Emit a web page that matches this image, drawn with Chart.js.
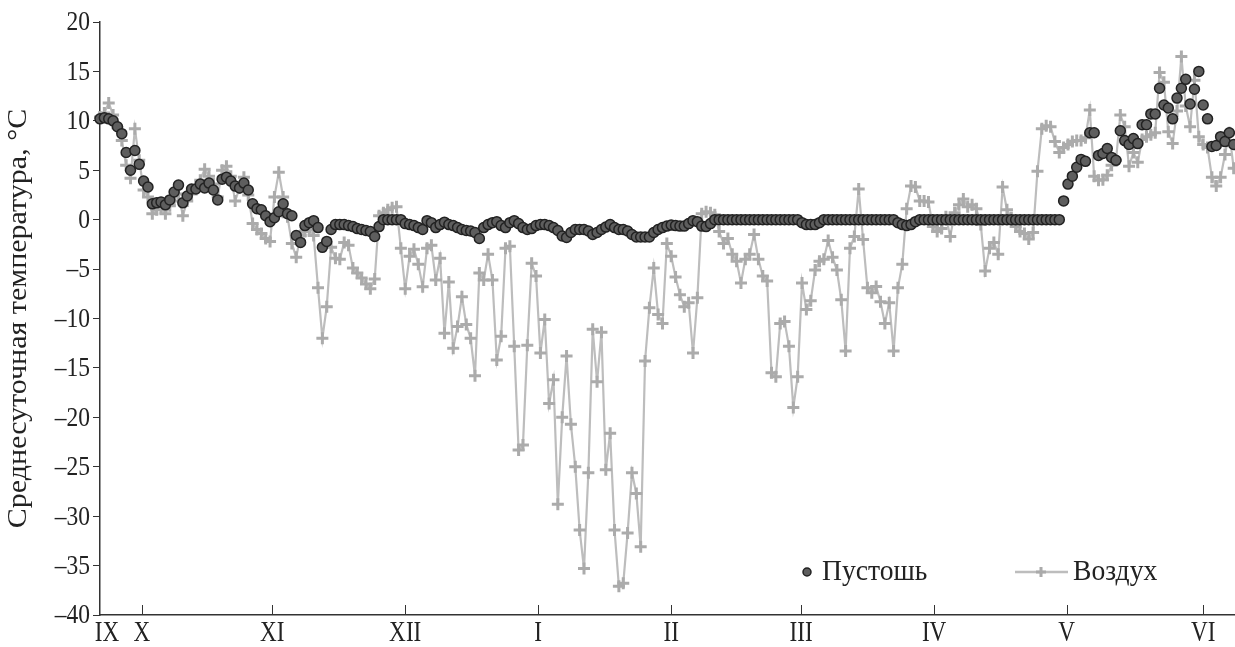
<!DOCTYPE html>
<html>
<head>
<meta charset="utf-8">
<script src="https://cdn.jsdelivr.net/npm/chart.js@4"></script>
<style>
  html, body { margin: 0; padding: 0; background: #fff; }
  #wrap { width: 1235px; height: 647px; }
</style>
</head>
<body>
<div id="wrap"><canvas id="myChart" width="1235" height="647"></canvas></div>
<script>
// daily mean temperature, one value per day from late September to early June
const soil = [
  10.2, 10.3, 10.2, 10.0, 9.4, 8.7, 6.8, 5.0, 7.0, 5.6,
  3.9, 3.3, 1.6, 1.7, 1.8, 1.5, 2.0, 2.8, 3.5, 1.7,
  2.4, 3.1, 3.1, 3.6, 3.2, 3.7, 3.0, 2.0, 4.1, 4.3,
  3.9, 3.4, 3.2, 3.7, 3.0, 1.6, 1.1, 1.0, 0.4, -0.2,
  0.2, 0.8, 1.6, 0.6, 0.4, -1.6, -2.3, -0.6, -0.3, -0.1,
  -0.8, -2.8, -2.2, -1.0, -0.5, -0.5, -0.5, -0.6, -0.7, -0.9,
  -1.0, -1.1, -1.2, -1.7, -0.7, 0, 0, 0, 0, 0,
  -0.4, -0.5, -0.6, -0.8, -1.0, -0.1, -0.3, -0.8, -0.5, -0.25,
  -0.5, -0.6, -0.8, -1.0, -1.1, -1.15, -1.3, -1.9, -0.8, -0.5,
  -0.3, -0.2, -0.6, -0.8, -0.3, -0.1, -0.4, -0.8, -1.0, -0.9,
  -0.6, -0.5, -0.5, -0.6, -0.8, -1.1, -1.65, -1.8, -1.3, -1.0,
  -1.0, -1.0, -1.15, -1.5, -1.3, -1.0, -0.75, -0.5, -0.8, -1.0,
  -1.0, -1.15, -1.5, -1.75, -1.75, -1.75, -1.75, -1.3, -1.0, -0.8,
  -0.65, -0.55, -0.6, -0.65, -0.65, -0.4, -0.1, -0.2, -0.65, -0.7,
  -0.4, 0, 0, 0, 0, 0, 0, 0, 0, 0,
  0, 0, 0, 0, 0, 0, 0, 0, 0, 0,
  0, -0.3, -0.5, -0.5, -0.5, -0.3, 0, 0, 0, 0,
  0, 0, 0, 0, 0, 0, 0, 0, 0, 0,
  0, 0, 0, -0.3, -0.5, -0.6, -0.5, -0.2, 0, 0,
  0, 0, 0, 0, 0, 0, 0, 0, 0, 0,
  0, 0, 0, 0, 0, 0, 0, 0, 0, 0,
  0, 0, 0, 0, 0, 0, 0, 0, 0, 0,
  0, 1.9, 3.6, 4.4, 5.3, 6.1, 5.9, 8.8, 8.8, 6.5,
  6.7, 7.2, 6.3, 6.0, 9.0, 8.0, 7.6, 8.2, 7.7, 9.6,
  9.6, 10.7, 10.7, 13.3, 11.6, 11.3, 10.2, 12.3, 13.3, 14.2,
  11.7, 13.2, 15.0, 11.6, 10.2, 7.4, 7.5, 8.4, 7.9, 8.8,
  7.6
];

const air = [
  10.4, 10.8, 11.8, 10.6, 9.3, 8.0, 5.5, 4.2, 9.2, 6.0,
  3.0, 2.3, 0.6, 1.0, 1.2, 0.6, 1.4, 1.9, 2.6, 0.4,
  1.9, 2.6, 3.4, 4.0, 5.1, 4.4, 3.6, 2.3, 5.0, 5.4,
  4.4, 1.9, 3.2, 4.3, 2.5, -0.4, -1.0, -1.4, -1.9, -2.2,
  2.3, 4.8, 2.3, 0.3, -2.4, -3.8, -1.6, -1.2, -1.0, -1.6,
  -6.9, -12.0, -8.8, -2.8, -3.9, -4.0, -2.3, -2.6, -4.9, -5.4,
  -5.9, -6.5, -7.0, -6.0, 0.4, 0.7, 1.0, 1.2, 1.3, -2.9,
  -7.0, -3.7, -3.0, -4.5, -6.8, -2.9, -2.6, -6.1, -3.9, -11.5,
  -6.3, -13.0, -10.8, -7.8, -10.6, -12.0, -15.8, -5.4, -6.1, -3.5,
  -6.1, -14.2, -11.8, -2.9, -2.7, -12.8, -23.3, -22.8, -12.7, -4.4,
  -5.7, -13.5, -10.1, -18.6, -16.2, -28.8, -20.0, -13.8, -20.7, -25.0,
  -31.4, -35.3, -25.6, -11.1, -16.4, -11.4, -25.3, -21.6, -31.4, -37.1,
  -36.8, -31.7, -25.6, -27.7, -33.1, -14.3, -8.9, -4.9, -9.6, -10.5,
  -2.4, -3.7, -5.8, -7.6, -8.8, -8.4, -13.5, -7.9, 0.6, 0.8,
  0.7, 0.5, -1.2, -2.4, -1.9, -3.5, -4.2, -6.4, -4.0, -3.5,
  -1.5, -4.0, -5.7, -6.2, -15.5, -15.9, -10.5, -10.3, -12.8, -19.0,
  -15.9, -6.4, -9.1, -8.2, -5.1, -4.2, -4.0, -2.1, -3.8, -5.1,
  -8.1, -13.3, -2.9, -1.7, 3.1, -2.0, -6.9, -7.4, -6.75, -8.3,
  -10.5, -8.4, -13.3, -6.9, -4.5, 1.1, 3.4, 3.3, 1.9, 1.9,
  1.8, -0.7, -1.2, -0.9, 0.3, -1.7, 0.7, 1.5, 2.1, 1.3,
  1.5, 1.1, -0.5, -5.2, -2.9, -2.3, -3.5, 3.3, 1.0, 0.2,
  -0.7, -1.2, -1.4, -1.95, -1.3, 4.9, 9.2, 9.5, 9.4, 7.9,
  6.8, 7.3, 7.6, 7.9, 8.0, 8.0, 8.3, 11.1, 4.4, 4.0,
  4.05, 4.5, 5.5, 6.0, 10.6, 9.4, 5.4, 6.8, 5.8, 8.1,
  8.4, 8.6, 8.8, 14.9, 13.9, 8.9, 7.7, 11.0, 16.5, 11.5,
  9.4, 14.1, 8.4, 7.6, 7.3, 4.3, 3.4, 4.3, 6.6, 8.8,
  5.2
];

// month labels and where they sit on the day axis
const monthLabels = ["IX", "X", "XI", "XII", "I", "II", "III", "IV", "V", "VI"];
const monthPos = [1.6, 9.6, 39.5, 70.0, 100.5, 131.0, 160.8, 191.3, 221.7, 253.0];
const yTicks = [20, 15, 10, 5, 0, -5, -10, -15, -20, -25, -30, -35, -40];

const soilPts = soil.map((v, i) => ({ x: i, y: v }));
const airPts = air.map((v, i) => ({ x: i, y: v }));

const serif = "'Liberation Serif', 'Times New Roman', serif";
Chart.defaults.font.family = serif;
Chart.defaults.color = "#222";

function fmt(v) {
  return v < 0 ? "\u2013" + Math.abs(v) : String(v);
}

// narrow, tall text like the printed figure
function squeezedText(ctx, text, x, y, size, sx, align) {
  ctx.save();
  ctx.translate(x, y);
  ctx.scale(sx, 1);
  ctx.font = size + "px " + serif;
  ctx.textAlign = align;
  ctx.textBaseline = "middle";
  ctx.fillText(text, 0, 0);
  ctx.restore();
}

// axis labels, inner x tick marks and the y title
const axisText = {
  id: "axisText",
  afterDraw(chart) {
    const ctx = chart.ctx;
    const x = chart.scales.x;
    const y = chart.scales.y;
    const area = chart.chartArea;
    ctx.save();
    ctx.strokeStyle = "#333";
    ctx.lineWidth = 1;
    x.ticks.forEach((t, i) => {
      if (i === 0) return;
      const px = Math.round(x.getPixelForValue(t.value)) + 0.5;
      ctx.beginPath();
      ctx.moveTo(px, area.bottom);
      ctx.lineTo(px, area.bottom - 10);
      ctx.stroke();
    });
    ctx.fillStyle = "#222";
    x.ticks.forEach((t, i) => {
      squeezedText(ctx, monthLabels[i], x.getPixelForValue(t.value), 633, 29, 0.8, "center");
    });
    y.ticks.forEach((t) => {
      squeezedText(ctx, fmt(t.value), 90, y.getPixelForValue(t.value) + 1, 28, 0.84, "right");
    });
    ctx.translate(19, (area.top + area.bottom) / 2);
    ctx.rotate(-Math.PI / 2);
    ctx.scale(1, 0.9);
    ctx.font = "30px " + serif;
    ctx.textAlign = "center";
    ctx.textBaseline = "middle";
    ctx.fillText("Среднесуточная температура, °C", 0, 0);
    ctx.restore();
  },
};

// legend in the lower right of the plot
const cornerLegend = {
  id: "cornerLegend",
  afterDraw(chart) {
    const ctx = chart.ctx;
    const y = 572;
    ctx.save();
    ctx.fillStyle = "#5e5e5e";
    ctx.strokeStyle = "#222";
    ctx.lineWidth = 1.5;
    ctx.beginPath();
    ctx.arc(807, y, 4, 0, Math.PI * 2);
    ctx.fill();
    ctx.stroke();

    ctx.strokeStyle = "#bdbdbd";
    ctx.lineWidth = 2.5;
    ctx.beginPath();
    ctx.moveTo(1015, y);
    ctx.lineTo(1068, y);
    ctx.stroke();
    ctx.strokeStyle = "#aaa";
    ctx.lineWidth = 3;
    ctx.beginPath();
    ctx.moveTo(1041, y - 5);
    ctx.lineTo(1041, y + 5);
    ctx.moveTo(1036, y);
    ctx.lineTo(1046, y);
    ctx.stroke();

    ctx.fillStyle = "#222";
    squeezedText(ctx, "Пустошь", 822, y, 30, 0.92, "left");
    squeezedText(ctx, "Воздух", 1073, y, 30, 0.92, "left");
    ctx.restore();
  },
};

const data = {
  datasets: [
    {
      label: "Пустошь",
      data: soilPts,
      showLine: false,
      pointStyle: "circle",
      pointRadius: 5,
      pointBackgroundColor: "#5e5e5e",
      pointBorderColor: "#222",
      pointBorderWidth: 1.5,
      clip: false,
    },
    {
      label: "Воздух",
      data: airPts,
      borderColor: "#bdbdbd",
      borderWidth: 2.2,
      pointStyle: "cross",
      pointRadius: 6,
      pointBorderColor: "#ababab",
      pointBorderWidth: 3,
      tension: 0,
      clip: false,
    },
  ],
};

const config = {
  type: "line",
  data: data,
  options: {
    responsive: false,
    animation: false,
    devicePixelRatio: 1,
    layout: { autoPadding: false, padding: { top: 22, right: 0, left: 0, bottom: 0 } },
    plugins: {
      legend: { display: false },
      tooltip: { enabled: false },
    },
    scales: {
      x: {
        type: "linear",
        min: 0,
        max: 260.3,
        afterBuildTicks: (scale) => {
          scale.ticks = monthPos.map((v) => ({ value: v }));
        },
        afterFit: (scale) => {
          scale.height = 32;
        },
        ticks: { display: false },
        grid: { display: false, drawTicks: false },
        border: { display: true, color: "#333", width: 1.5 },
      },
      y: {
        min: -40,
        max: 20,
        afterBuildTicks: (scale) => {
          scale.ticks = yTicks.map((v) => ({ value: v }));
        },
        afterFit: (scale) => {
          scale.width = 100;
        },
        ticks: { display: false },
        grid: {
          drawOnChartArea: false,
          tickLength: 7,
          tickColor: "#333",
          tickWidth: 1,
        },
        border: { display: true, color: "#333", width: 1.5 },
      },
    },
  },
  plugins: [axisText, cornerLegend],
};

const myChart = new Chart(document.getElementById("myChart"), config);
</script>
</body>
</html>
